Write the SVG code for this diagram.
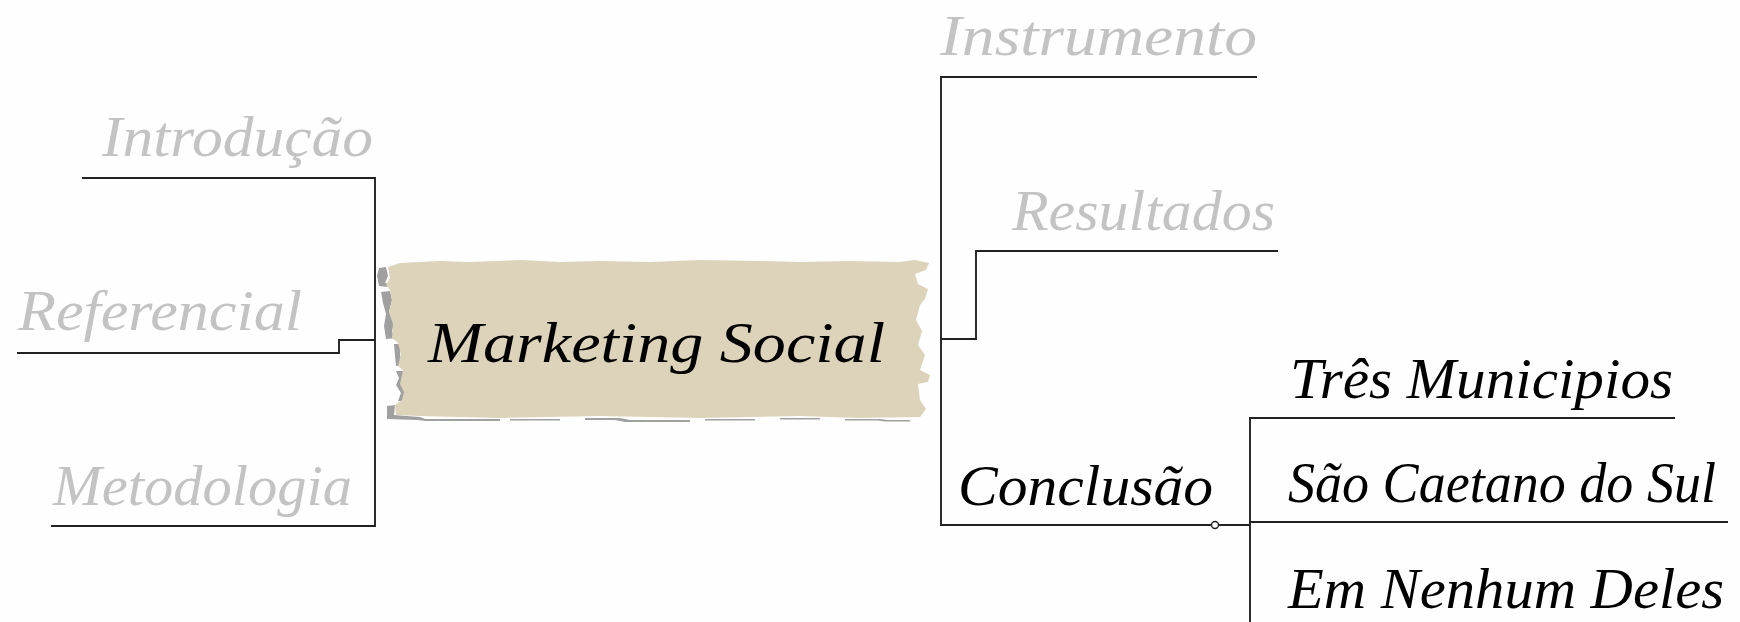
<svg xmlns="http://www.w3.org/2000/svg" width="1740" height="622" viewBox="0 0 1740 622">
  <style>
    .lbl { font-family: "Liberation Serif", "Times New Roman", serif; font-style: italic; font-size: 58px; }
    .gray { fill: #c3c3c3; }
    .dark { fill: #000000; }
    .conn { fill: none; stroke: #222222; stroke-width: 1.9; }
    .shadow { fill: #a0a0a0; }
  </style>
  <rect x="0" y="0" width="1740" height="622" fill="#fefefe"/>

  <g id="connectors">
    <path class="conn" d="M 82,178 H 375 V 526 H 51"/>
    <path class="conn" d="M 17,353 H 339 V 340 H 375"/>
    <path class="conn" d="M 1257,77 H 941 V 525 H 1250"/>
    <path class="conn" d="M 941,339 H 976 V 251 H 1278"/>
    <path class="conn" d="M 1675,418 H 1250 V 622"/>
    <path class="conn" d="M 1250,522 H 1728"/>
    <circle cx="1215" cy="525" r="3.5" fill="#ffffff" stroke="#222222" stroke-width="1.4"/>
  </g>

  <g id="node-center">
    <g class="shadow">
      <path d="M 379,268 L 386,267 L 388,276 L 385,283 L 392,284 L 388,287 L 379,286 L 377,276 Z"/>
      <path d="M 381,292 L 390,291 L 392,300 L 389,312 L 394,322 L 392,332 L 397,338 L 386,339 L 384,326 L 386,314 L 383,303 Z"/>
      <path d="M 394,344 L 401,344 L 400,355 L 403,365 L 396,366 L 395,356 Z"/>
      <path d="M 396,371 L 404,371 L 402,380 L 409,388 L 405,396 L 409,401 L 398,401 L 401,393 L 396,385 L 399,378 Z"/>
      <path d="M 387,406 L 395,405 L 394,415 L 420,417 L 425,419 L 500,419 L 500,421 L 425,421 L 418,420 L 387,419 Z"/>
      <path d="M 510,419 L 560,419 L 560,420.5 L 510,420.5 Z"/>
      <path d="M 585,418 L 620,418 L 630,420 L 690,420 L 690,422 L 625,422 L 615,420 L 585,420 Z"/>
      <path d="M 705,419 L 755,419 L 755,420.5 L 705,420.5 Z"/>
      <path d="M 780,418 L 820,418 L 820,419.5 L 780,419.5 Z"/>
      <path d="M 845,419 L 880,419 L 888,420 L 910,420 L 910,421.5 L 885,421.5 L 878,420.5 L 845,420.5 Z"/>
    </g>
    <path fill="#ddd3bb" d="M 388,267 L 400,263 L 440,261 L 470,262 L 520,260 L 560,262 L 600,261 L 650,262 L 700,260 L 760,261 L 800,262 L 850,261 L 900,262 L 915,260 L 929,263 L 926,270 L 915,274 L 918,284 L 928,289 L 925,299 L 920,305 L 916,320 L 922,331 L 918,345 L 925,355 L 920,370 L 930,375 L 928,382 L 918,384 L 920,400 L 926,409 L 920,417 L 860,418 L 800,416 L 700,418 L 600,416 L 500,418 L 420,416 L 396,415 L 395,405 L 402,400 L 404,392 L 400,384 L 403,370 L 398,366 L 401,354 L 398,343 L 392,338 L 393,324 L 389,312 L 392,300 L 390,290 L 386,285 L 390,278 Z"/>
    <text class="lbl dark" x="428" y="362" font-size="62" textLength="457" lengthAdjust="spacingAndGlyphs">Marketing Social</text>
  </g>

  <g id="node-introducao">
    <text class="lbl gray" x="102" y="156" textLength="271" lengthAdjust="spacingAndGlyphs">Introdução</text>
  </g>
  <g id="node-referencial">
    <text class="lbl gray" x="18" y="330" textLength="284" lengthAdjust="spacingAndGlyphs">Referencial</text>
  </g>
  <g id="node-metodologia">
    <text class="lbl gray" x="53" y="505" textLength="299" lengthAdjust="spacingAndGlyphs">Metodologia</text>
  </g>
  <g id="node-instrumento">
    <text class="lbl gray" x="940" y="55" textLength="317" lengthAdjust="spacingAndGlyphs">Instrumento</text>
  </g>
  <g id="node-resultados">
    <text class="lbl gray" x="1012" y="230" textLength="263" lengthAdjust="spacingAndGlyphs">Resultados</text>
  </g>
  <g id="node-conclusao">
    <text class="lbl dark" x="958" y="505" textLength="255" lengthAdjust="spacingAndGlyphs">Conclusão</text>
  </g>
  <g id="node-tres-municipios">
    <text class="lbl dark" x="1290" y="398" textLength="383" lengthAdjust="spacingAndGlyphs">Três Municipios</text>
  </g>
  <g id="node-sao-caetano">
    <text class="lbl dark" x="1288" y="502" font-size="54" textLength="428" lengthAdjust="spacingAndGlyphs">São Caetano do Sul</text>
  </g>
  <g id="node-em-nenhum">
    <text class="lbl dark" x="1288" y="608" textLength="436" lengthAdjust="spacingAndGlyphs">Em Nenhum Deles</text>
  </g>
</svg>
